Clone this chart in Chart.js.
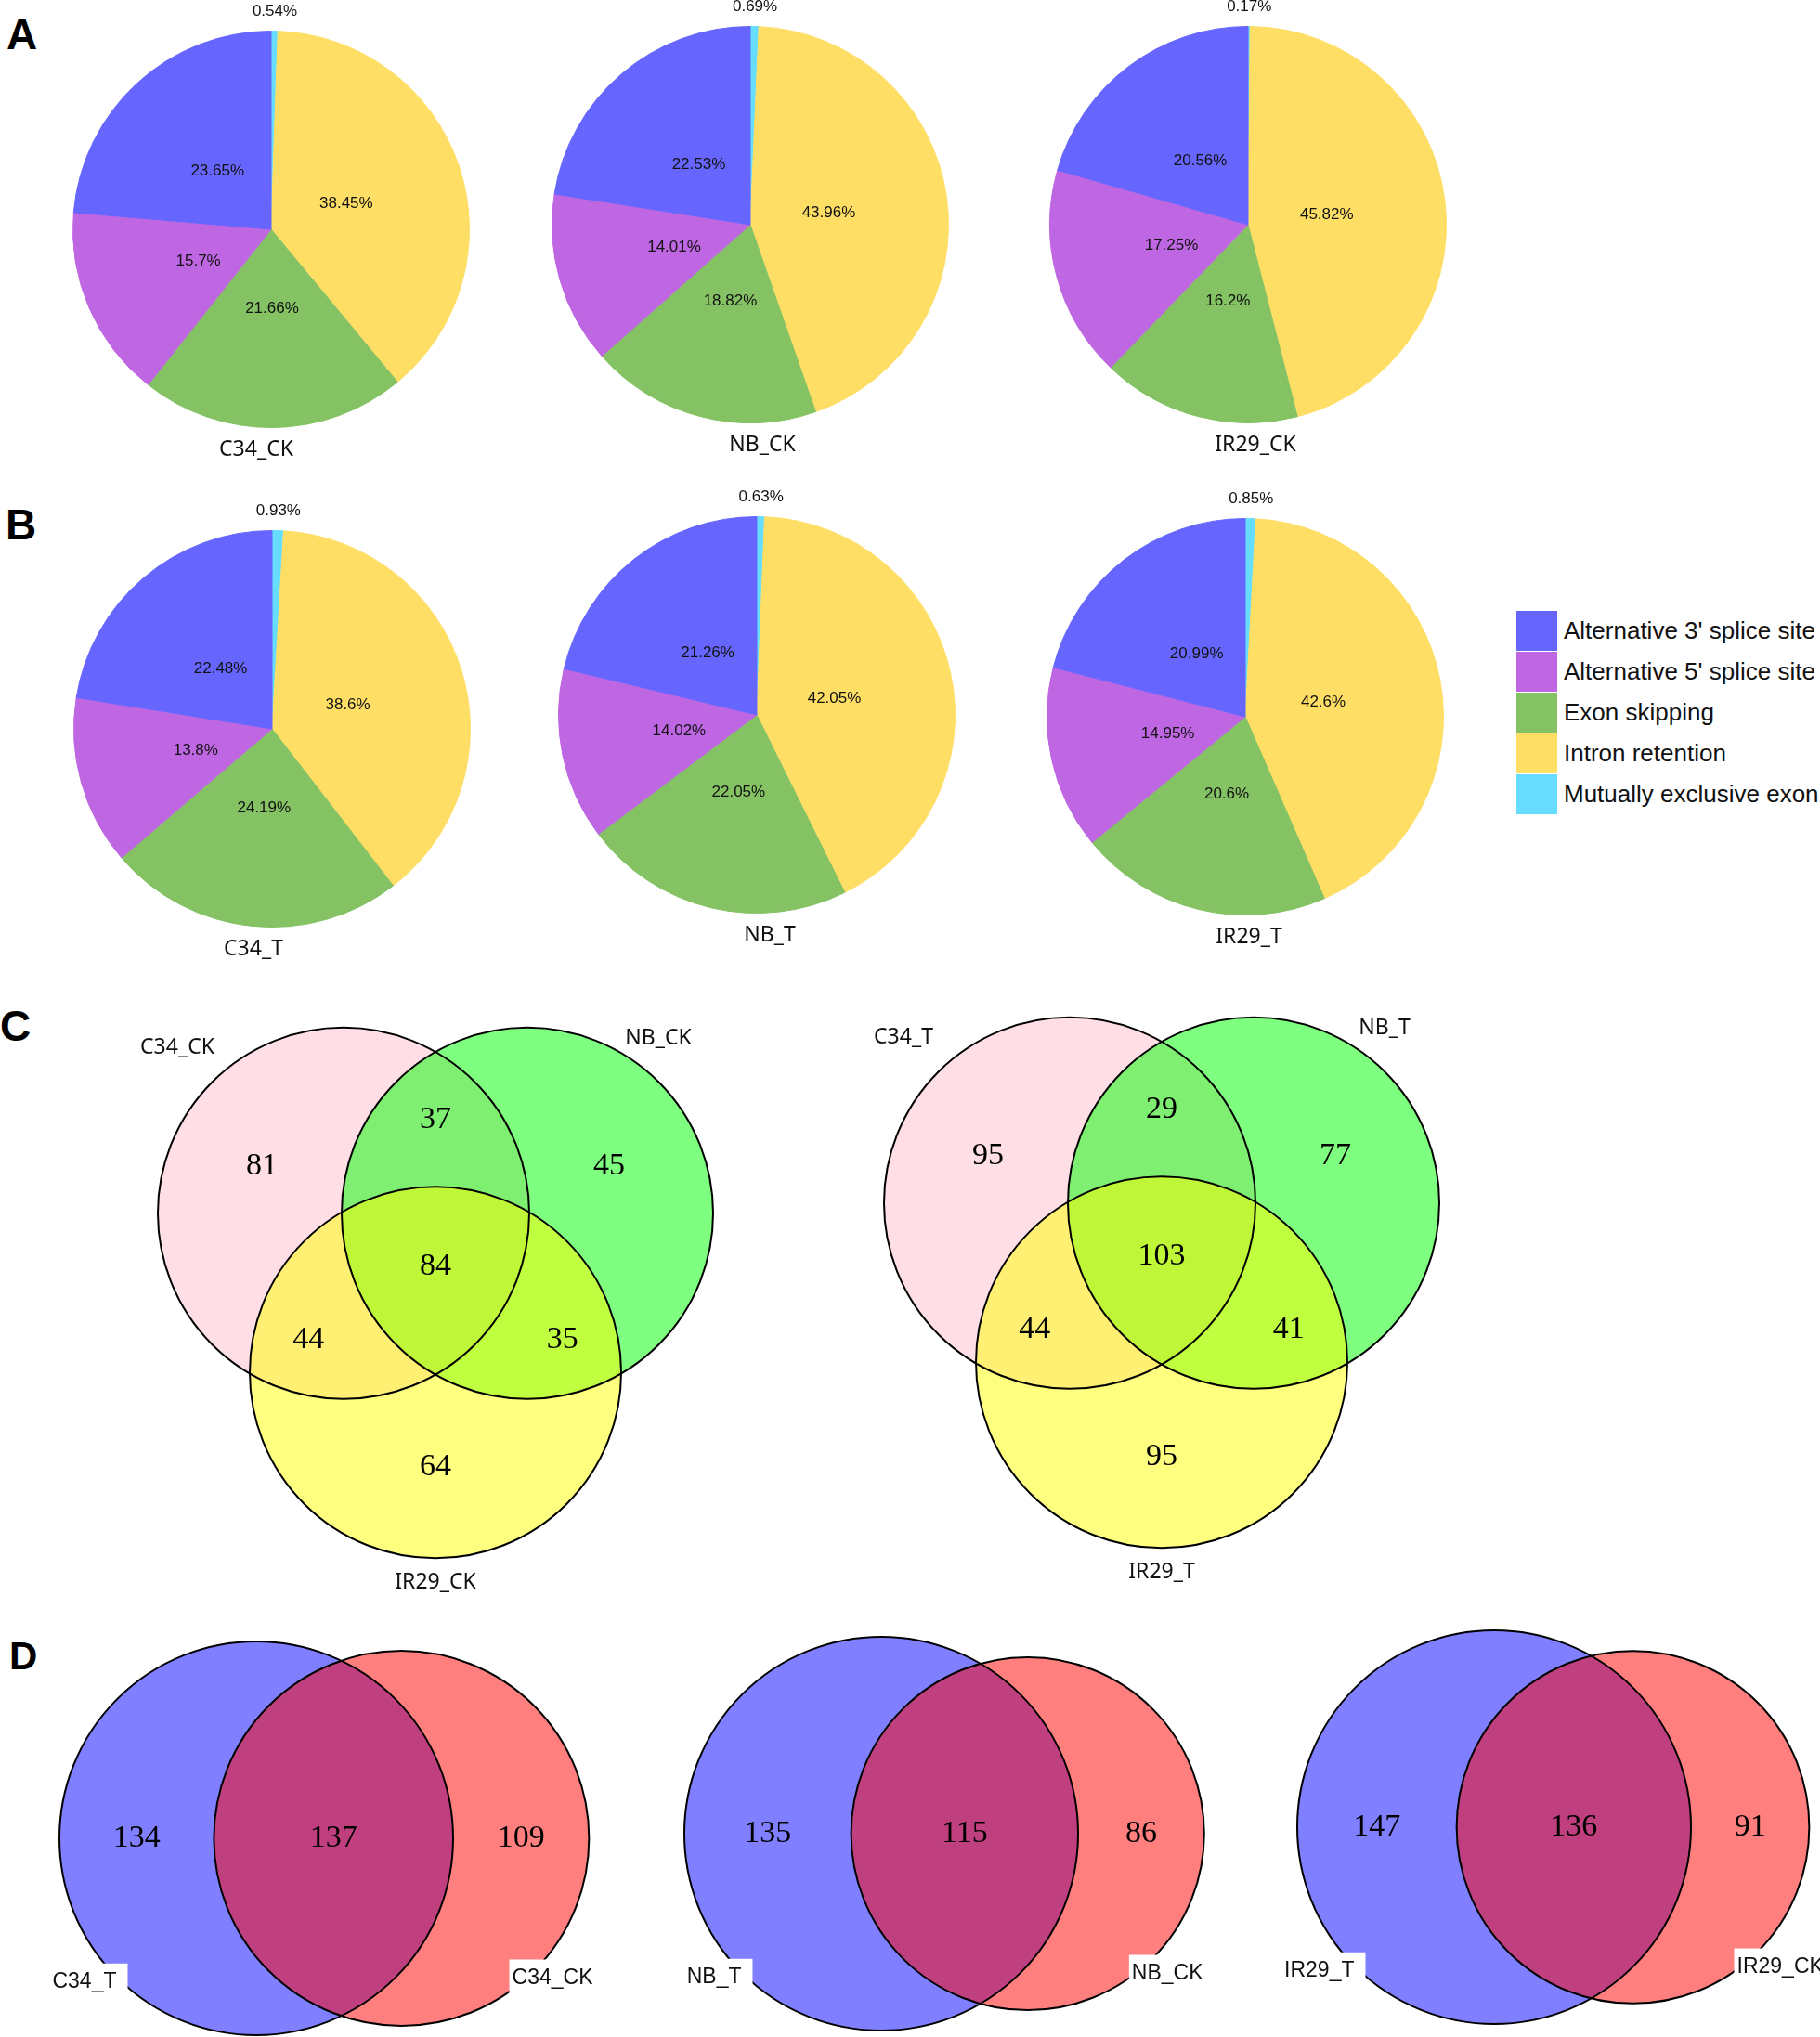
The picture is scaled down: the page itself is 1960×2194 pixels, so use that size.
<!DOCTYPE html>
<html>
<head>
<meta charset="utf-8">
<script src="https://cdn.jsdelivr.net/npm/chart.js@4.4.1/dist/chart.umd.min.js"></script>
<style>
  html, body { margin: 0; padding: 0; background: #fff; }
  #page { position: relative; width: 1960px; height: 2194px; overflow: hidden; background: #fff; }
  canvas { position: absolute; }
  .tag { position: absolute; font-family: "Liberation Sans", Arial, sans-serif; font-weight: bold; line-height: 1; color: #000; }
  #legend { position: absolute; left: 1633px; top: 657px; font-family: "Liberation Sans", Arial, sans-serif; font-size: 26px; color: #111; }
  .row { display: flex; align-items: center; height: 44px; }
  .sw { width: 44px; height: 43px; margin-right: 7px; }
</style>
</head>
<body>
<div id="page">
  <div class="tag" style="left:7px;top:14px;font-size:46px">A</div>
  <div class="tag" style="left:6px;top:542px;font-size:46px">B</div>
  <div class="tag" style="left:0px;top:1082px;font-size:46px">C</div>
  <div class="tag" style="left:10px;top:1763px;font-size:42px">D</div>
  <div id="legend"></div>
</div>
<script>
// ---- data ----
const eventTypes = ["Alternative 3' splice site", "Alternative 5' splice site", "Exon skipping", "Intron retention", "Mutually exclusive exon"];
const eventColors = ['#6666FF', '#BF66E3', '#84C264', '#FFDE66', '#66DDFF'];

const pieNames = ['C34_CK', 'NB_CK', 'IR29_CK', 'C34_T', 'NB_T', 'IR29_T'];
const pctC34CK  = [23.65, 15.7, 21.66, 38.45, 0.54];
const pctNBCK   = [22.53, 14.01, 18.82, 43.96, 0.69];
const pctIR29CK = [20.56, 17.25, 16.2, 45.82, 0.17];
const pctC34T   = [22.48, 13.8, 24.19, 38.6, 0.93];
const pctNBT    = [21.26, 14.02, 22.05, 42.05, 0.63];
const pctIR29T  = [20.99, 14.95, 20.6, 42.6, 0.85];
const pieValues = [pctC34CK, pctNBCK, pctIR29CK, pctC34T, pctNBT, pctIR29T];

// three-way venn: regions only1, only2, only3, 1&2, 1&3, 2&3, all
const vennCKSets = ['C34_CK', 'NB_CK', 'IR29_CK'];
const vennCKCounts = [81, 45, 64, 37, 44, 35, 84];
const vennTSets = ['C34_T', 'NB_T', 'IR29_T'];
const vennTCounts = [95, 77, 95, 29, 44, 41, 103];

// two-way venn: treatment vs control
const pairT = ['C34_T', 'NB_T', 'IR29_T'];
const pairCK = ['C34_CK', 'NB_CK', 'IR29_CK'];
const onlyT = [134, 135, 147];
const sharedTCK = [137, 115, 136];
const onlyCK = [109, 86, 91];

// ---- layout ----
const page = document.getElementById('page');
const PIE_R = 214;
const pieCentres = [[292, 247], [808, 242], [1344, 242], [293, 785], [815, 770], [1341, 772]];
const pieNameShift = [-16, 13, 8, -20, 14, 4];

function addCanvas(left, top, w, h) {
  const c = document.createElement('canvas');
  c.width = w; c.height = h;
  c.style.left = left + 'px'; c.style.top = top + 'px';
  c.style.width = w + 'px'; c.style.height = h + 'px';
  page.appendChild(c);
  return c;
}

// legend
const legend = document.getElementById('legend');
eventTypes.forEach((t, i) => {
  const row = document.createElement('div');
  row.className = 'row';
  row.innerHTML = '<div class="sw" style="background:' + eventColors[i] + '"></div><span>' + t + '</span>';
  legend.appendChild(row);
});

// pie labels: percentages inside (small ones outside) + sample name underneath
const pieLabels = {
  id: 'pieLabels',
  afterDatasetsDraw(chart, args, opts) {
    const ctx = chart.ctx;
    const meta = chart.getDatasetMeta(0);
    const vals = chart.data.datasets[0].data;
    ctx.save();
    ctx.fillStyle = '#111';
    ctx.textAlign = 'center';
    ctx.textBaseline = 'middle';
    ctx.font = '17px "Liberation Sans", Arial, sans-serif';
    meta.data.forEach((arc, i) => {
      const mid = (arc.startAngle + arc.endAngle) / 2;
      const dist = vals[i] < 2 ? arc.outerRadius + 21 : arc.outerRadius * 0.4;
      ctx.fillText(vals[i] + '%', arc.x + Math.cos(mid) * dist, arc.y + Math.sin(mid) * dist);
    });
    const a0 = meta.data[0];
    ctx.font = '23px "Noto Sans", sans-serif';
    ctx.fillText(opts.name, a0.x + opts.shift, a0.y + a0.outerRadius + 24);
    ctx.restore();
  }
};

pieValues.forEach((vals, k) => {
  const [cx, cy] = pieCentres[k];
  const cv = addCanvas(cx - PIE_R - 30, cy - PIE_R - 36, 2 * PIE_R + 60, 2 * PIE_R + 80);
  // slices run counter-clockwise from 12 o'clock in the original, so reverse for Chart.js
  const cols = eventColors.slice().reverse();
  new Chart(cv, {
    type: 'pie',
    data: {
      labels: eventTypes.slice().reverse(),
      datasets: [{
        data: vals.slice().reverse(),
        backgroundColor: cols,
        borderColor: cols,
        borderWidth: 1,
        hoverOffset: 0
      }]
    },
    options: {
      responsive: false,
      animation: false,
      events: [],
      layout: { padding: { left: 30, right: 30, top: 36, bottom: 44 } },
      plugins: { legend: { display: false }, tooltip: { enabled: false },
        pieLabels: { name: pieNames[k], shift: pieNameShift[k] } }
    },
    plugins: [pieLabels]
  });
});

// ---- venn helpers ----
function unitScales(w, h, ox, oy, ppu) {
  return {
    x: { type: 'linear', display: false, min: -ox / ppu, max: (w - ox) / ppu },
    y: { type: 'linear', display: false, min: -(h - oy) / ppu, max: oy / ppu }
  };
}

const vennDraw = {
  id: 'vennDraw',
  beforeDatasetsDraw(chart, args, opts) {
    const { ctx, scales: { x, y } } = chart;
    const ppu = x.getPixelForValue(1) - x.getPixelForValue(0);
    ctx.save();
    opts.circles.forEach(c => {
      ctx.beginPath();
      ctx.arc(x.getPixelForValue(c.x), y.getPixelForValue(c.y), c.r * ppu, 0, Math.PI * 2);
      ctx.fillStyle = c.fill;
      ctx.fill();
    });
    ctx.lineWidth = 2;
    ctx.strokeStyle = '#000';
    opts.circles.forEach(c => {
      ctx.beginPath();
      ctx.arc(x.getPixelForValue(c.x), y.getPixelForValue(c.y), c.r * ppu, 0, Math.PI * 2);
      ctx.stroke();
    });
    ctx.restore();
  },
  afterDatasetsDraw(chart, args, opts) {
    const { ctx, scales: { x, y } } = chart;
    const meta = chart.getDatasetMeta(0);
    const pts = chart.data.datasets[0].data;
    ctx.save();
    ctx.textBaseline = 'middle';
    // set names
    ctx.font = opts.nameFont;
    opts.names.forEach(nm => {
      const px = x.getPixelForValue(nm.x), py = y.getPixelForValue(nm.y);
      ctx.textAlign = nm.align || 'center';
      if (opts.boxes) {
        const w = ctx.measureText(nm.text).width;
        let left = px - w / 2;
        if (nm.align === 'right') left = px - w;
        if (nm.align === 'left') left = px;
        ctx.fillStyle = '#fff';
        ctx.fillRect(left - nm.padL, py - 20, w + nm.padL + nm.padR, 42);
      }
      ctx.fillStyle = '#111';
      ctx.fillText(nm.text, px, py);
    });
    // region counts
    ctx.textAlign = 'center';
    ctx.font = '34px "Liberation Serif", "Times New Roman", serif';
    ctx.fillStyle = '#000';
    meta.data.forEach((p, i) => ctx.fillText(String(pts[i].n), p.x, p.y));
    ctx.restore();
  }
};

function makeVennChart(cv, scales, points, circles, names, nameFont, boxes) {
  new Chart(cv, {
    type: 'scatter',
    data: { datasets: [{ data: points, pointRadius: 0, pointHoverRadius: 0 }] },
    options: {
      responsive: false,
      animation: false,
      events: [],
      layout: { padding: 0 },
      scales: scales,
      plugins: { legend: { display: false }, tooltip: { enabled: false },
        vennDraw: { circles: circles, names: names, nameFont: nameFont, boxes: boxes } }
    },
    plugins: [vennDraw]
  });
}

// ---- three-way venns (equal circles, centres on an equilateral triangle) ----
const V3_D = 0.99;
const v3h = V3_D * Math.sqrt(3) / 2;
const v3Centres = [[-V3_D / 2, v3h / 3], [V3_D / 2, v3h / 3], [0, -2 * v3h / 3]];
const v3Fills = ['rgba(255,192,203,0.5)', 'rgba(0,255,0,0.5)', 'rgba(255,255,0,0.5)'];
const v3NamePos = [[-1.39, 1.18], [1.20, 1.23], [0, -1.70]];

function dirOf(c) { const l = Math.hypot(c[0], c[1]); return [c[0] / l, c[1] / l]; }
function venn3Points(counts) {
  const d = v3Centres.map(dirOf);
  const pos = [
    [d[0][0] * 1.08, d[0][1] * 1.08], [d[1][0] * 1.08, d[1][1] * 1.08], [d[2][0] * 1.08, d[2][1] * 1.08],
    [-d[2][0] * 0.79, -d[2][1] * 0.79], [-d[1][0] * 0.79, -d[1][1] * 0.79], [-d[0][0] * 0.79, -d[0][1] * 0.79],
    [0, 0]
  ];
  return pos.map((p, i) => ({ x: p[0], y: p[1], n: counts[i] }));
}

[[vennCKSets, vennCKCounts, 120, 349, 284], [vennTSets, vennTCounts, 900, 351, 273]].forEach(([sets, counts, left, ox, oy]) => {
  const cv = addCanvas(left, 1080, 700, 650);
  const circles = v3Centres.map((c, i) => ({ x: c[0], y: c[1], r: 1, fill: v3Fills[i] }));
  const names = sets.map((s, i) => ({ text: s, x: v3NamePos[i][0], y: v3NamePos[i][1] }));
  makeVennChart(cv, unitScales(700, 650, ox, oy, 200), venn3Points(counts), circles, names,
    '23px "Noto Sans", sans-serif', false);
});

// ---- two-way venns (area proportional) ----
function lensArea(r1, r2, d) {
  if (d >= r1 + r2) return 0;
  if (d <= Math.abs(r1 - r2)) return Math.PI * Math.min(r1, r2) ** 2;
  const a = r1 * r1 * Math.acos((d * d + r1 * r1 - r2 * r2) / (2 * d * r1));
  const b = r2 * r2 * Math.acos((d * d + r2 * r2 - r1 * r1) / (2 * d * r2));
  const c = 0.5 * Math.sqrt((-d + r1 + r2) * (d + r1 - r2) * (d - r1 + r2) * (d + r1 + r2));
  return a + b - c;
}
function solveDistance(r1, r2, target) {
  let lo = Math.abs(r1 - r2), hi = r1 + r2;
  for (let i = 0; i < 60; i++) {
    const mid = (lo + hi) / 2;
    if (lensArea(r1, r2, mid) > target) lo = mid; else hi = mid;
  }
  return (lo + hi) / 2;
}

const v2Panels = [[40, 640, 236, 235], [700, 620, 249, 230], [1370, 590, 239, 223]];
pairT.forEach((tName, k) => {
  const totT = onlyT[k] + sharedTCK[k];
  const totCK = onlyCK[k] + sharedTCK[k];
  const r1 = 1, r2 = Math.sqrt(totCK / totT);
  const d = solveDistance(r1, r2, Math.PI * sharedTCK[k] / totT);
  const points = [
    { x: (-r1 + (d - r2)) / 2, y: 0, n: onlyT[k] },
    { x: ((d - r2) + r1) / 2, y: 0, n: sharedTCK[k] },
    { x: (r1 + d + r2) / 2, y: 0, n: onlyCK[k] }
  ];
  const circles = [
    { x: 0, y: 0, r: r1, fill: 'rgba(0,0,255,0.5)' },
    { x: d, y: 0, r: r2, fill: 'rgba(255,0,0,0.5)' }
  ];
  const names = [
    { text: tName, x: -0.71, y: -0.73, align: 'right', padL: 8, padR: 12 },
    { text: pairCK[k], x: d + 0.59 * r2, y: -0.71, align: 'left', padL: 3, padR: 10 }
  ];
  const [left, w, ox, oy] = v2Panels[k];
  const cv = addCanvas(left, 1745, w, 449);
  makeVennChart(cv, unitScales(w, 449, ox, oy, 212), points, circles, names,
    '23px "Liberation Sans", Arial, sans-serif', true);
});
</script>
</body>
</html>
